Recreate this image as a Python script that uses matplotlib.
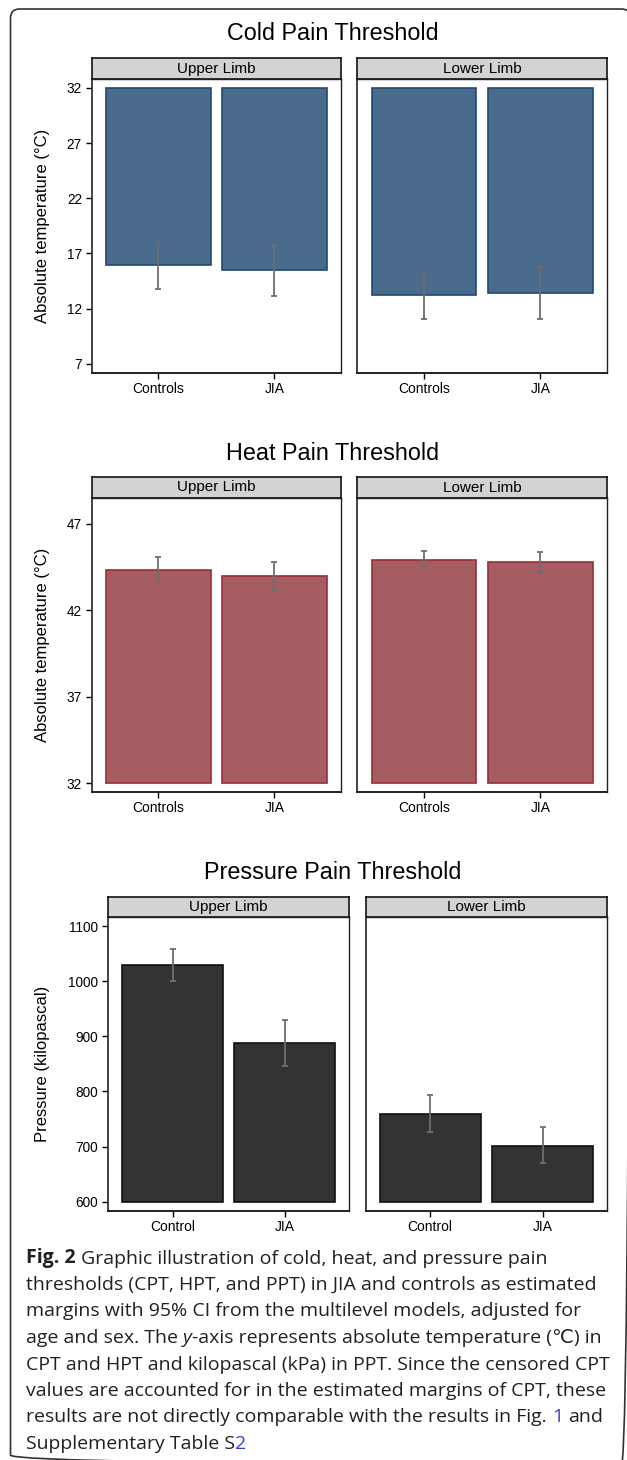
import numpy as np
import matplotlib.pyplot as plt
from matplotlib.patches import FancyBboxPatch

# ---- data ----
limbs = ["Upper Limb", "Lower Limb"]
groups_temp = ["Controls", "JIA"]
groups_ppt = ["Control", "JIA"]

# rows: upper limb, lower limb ; cols: controls, JIA
cpt_mean = [[15.95, 15.5], [13.25, 13.45]]
cpt_lo = [[13.8, 13.15], [11.1, 11.1]]
cpt_hi = [[18.0, 17.8], [15.35, 15.8]]

hpt_mean = [[44.3, 43.95], [44.88, 44.76]]
hpt_lo = [[43.63, 43.14], [44.38, 44.18]]
hpt_hi = [[45.05, 44.76], [45.4, 45.34]]

ppt_mean = [[1029, 888], [760, 701.5]]
ppt_lo = [[1000, 846], [726, 670]]
ppt_hi = [[1059, 930], [794, 735]]

cpt_ticks = [7, 12, 17, 22, 27, 32]
hpt_ticks = [32, 37, 42, 47]
ppt_ticks = [600, 700, 800, 900, 1000, 1100]

caption_lines = [
    [("Fig. 2", "bold", False), ("Graphic illustration of cold, heat, and pressure pain", "reg", True)],
    [("thresholds (CPT, HPT, and PPT) in JIA and controls as estimated", "reg", False)],
    [("margins with 95% CI from the multilevel models, adjusted for", "reg", False)],
    [("age and sex. The", "reg", False), ("y", "ital", True),
     ("-axis represents absolute temperature (\u2103) in", "reg", False)],
    [("CPT and HPT and kilopascal (kPa) in PPT. Since the censored CPT", "reg", False)],
    [("values are accounted for in the estimated margins of CPT, these", "reg", False)],
    [("results are not directly comparable with the results in Fig.", "reg", False),
     ("1", "link", True), ("and", "reg", True)],
    [("Supplementary Table S", "reg", False), ("2", "link", False)],
]

plt.rcParams['font.family'] = ['Liberation Sans', 'DejaVu Sans']

W, H = 627, 1460
fig = plt.figure(figsize=(W / 100, H / 100), dpi=100)

# background axes in pixel units, for frame, titles and caption
bg = fig.add_axes([0, 0, 1, 1])
bg.set_xlim(0, W)
bg.set_ylim(H, 0)
bg.axis('off')

frame = FancyBboxPatch((10.5, 9), 620, 1455, boxstyle="round,pad=0,rounding_size=9",
                       fill=False, ec='#333333', lw=1.2)
bg.add_patch(frame)


def px_axes(l, t, r, b):
    return fig.add_axes([l / W, 1 - b / H, (r - l) / W, (b - t) / H])


def draw_panel(title, title_y, strip_top, ax_top, ax_bot, cols, groups,
               means, lo, hi, base, ylim, yticks, ylabel, color, edge):
    bg.text(333, title_y, title, ha='center', va='center', fontsize=16.8)
    for i, (l, r) in enumerate(cols):
        strip = px_axes(l, strip_top, r, ax_top)
        strip.set_facecolor('#d3d3d3')
        strip.set_xticks([])
        strip.set_yticks([])
        for s in strip.spines.values():
            s.set_color('black')
            s.set_linewidth(1.1)
        strip.text(0.5, 0.5, limbs[i], ha='center', va='center', fontsize=11,
                   transform=strip.transAxes)

        ax = px_axes(l, ax_top, r, ax_bot)
        x = np.arange(len(groups))
        m = np.array(means[i])
        ax.bar(x, m - base, bottom=base, width=0.9, color=color, edgecolor=edge,
               linewidth=1.2, zorder=2)
        ax.errorbar(x, m, yerr=[m - np.array(lo[i]), np.array(hi[i]) - m], fmt='none',
                    ecolor='#6e6e6e', elinewidth=1.3, capsize=2.5, capthick=1.3, zorder=3)
        ax.set_xlim(-0.575, 1.575)
        ax.set_ylim(ylim)
        ax.set_xticks(x)
        ax.set_xticklabels(groups, fontsize=10)
        ax.tick_params(axis='x', direction='out', length=4, width=1, pad=3)
        for s in ax.spines.values():
            s.set_color('#222222')
            s.set_linewidth(1.0)
        ax.spines['bottom'].set_linewidth(1.4)
        ax.spines['left'].set_linewidth(1.2)
        if i == 0:
            ax.set_yticks(yticks)
            ax.set_yticklabels([str(t) for t in yticks], fontsize=9.8)
            ax.tick_params(axis='y', direction='out', length=4, width=1, pad=3)
            ax.set_ylabel(ylabel, fontsize=12)
            ax.yaxis.set_label_coords((50 - l) / (r - l), 0.5)
        else:
            ax.set_yticks([])


draw_panel("Cold Pain Threshold", 33, 58.3, 79, 372.7,
           [(91.6, 341.2), (357.2, 607.2)], groups_temp,
           cpt_mean, cpt_lo, cpt_hi, 32, (6.2, 32.8), cpt_ticks,
           "Absolute temperature (°C)", '#4a6b8b', '#1f4a74')

draw_panel("Heat Pain Threshold", 453.3, 477.3, 497.7, 791.7,
           [(91.6, 341.2), (357.2, 607.2)], groups_temp,
           hpt_mean, hpt_lo, hpt_hi, 32, (31.5, 48.5), hpt_ticks,
           "Absolute temperature (°C)", '#a65d62', '#9a2e3a')

draw_panel("Pressure Pain Threshold", 872.7, 896.7, 916.7, 1210.7,
           [(108, 349.2), (365.6, 607.2)], groups_ppt,
           ppt_mean, ppt_lo, ppt_hi, 600, (583.7, 1117), ppt_ticks,
           "Pressure (kilopascal)", '#333333', '#111111')

# ---- caption ----
cap_fam = ['Open Sans', 'DejaVu Sans']
styles = {
    "reg": dict(family=cap_fam, color='#231f20'),
    "bold": dict(family=cap_fam, color='#231f20', weight='bold'),
    "ital": dict(family=cap_fam, color='#231f20', style='italic'),
    "link": dict(family=cap_fam, color='#3b3bd6'),
}
cap_size = 14
renderer = fig.canvas.get_renderer()


def text_width(s, style):
    t = bg.text(0, 0, s, fontsize=cap_size, **styles[style])
    w = t.get_window_extent(renderer).width
    t.remove()
    return w


for k, runs in enumerate(caption_lines):
    x = 26
    y = 1263.5 + 26.5 * k
    prev = None
    for s, style, gap in runs:
        if prev is not None:
            ps, pstyle = prev
            sep = " " if gap else ""
            # offset of the new run from the start of the previous one
            x += text_width(ps + sep + s, pstyle) - text_width(s, pstyle)
        bg.text(x, y, s, fontsize=cap_size, ha='left', va='baseline', **styles[style])
        prev = (s, style)

fig.savefig('out.png', dpi=100)
